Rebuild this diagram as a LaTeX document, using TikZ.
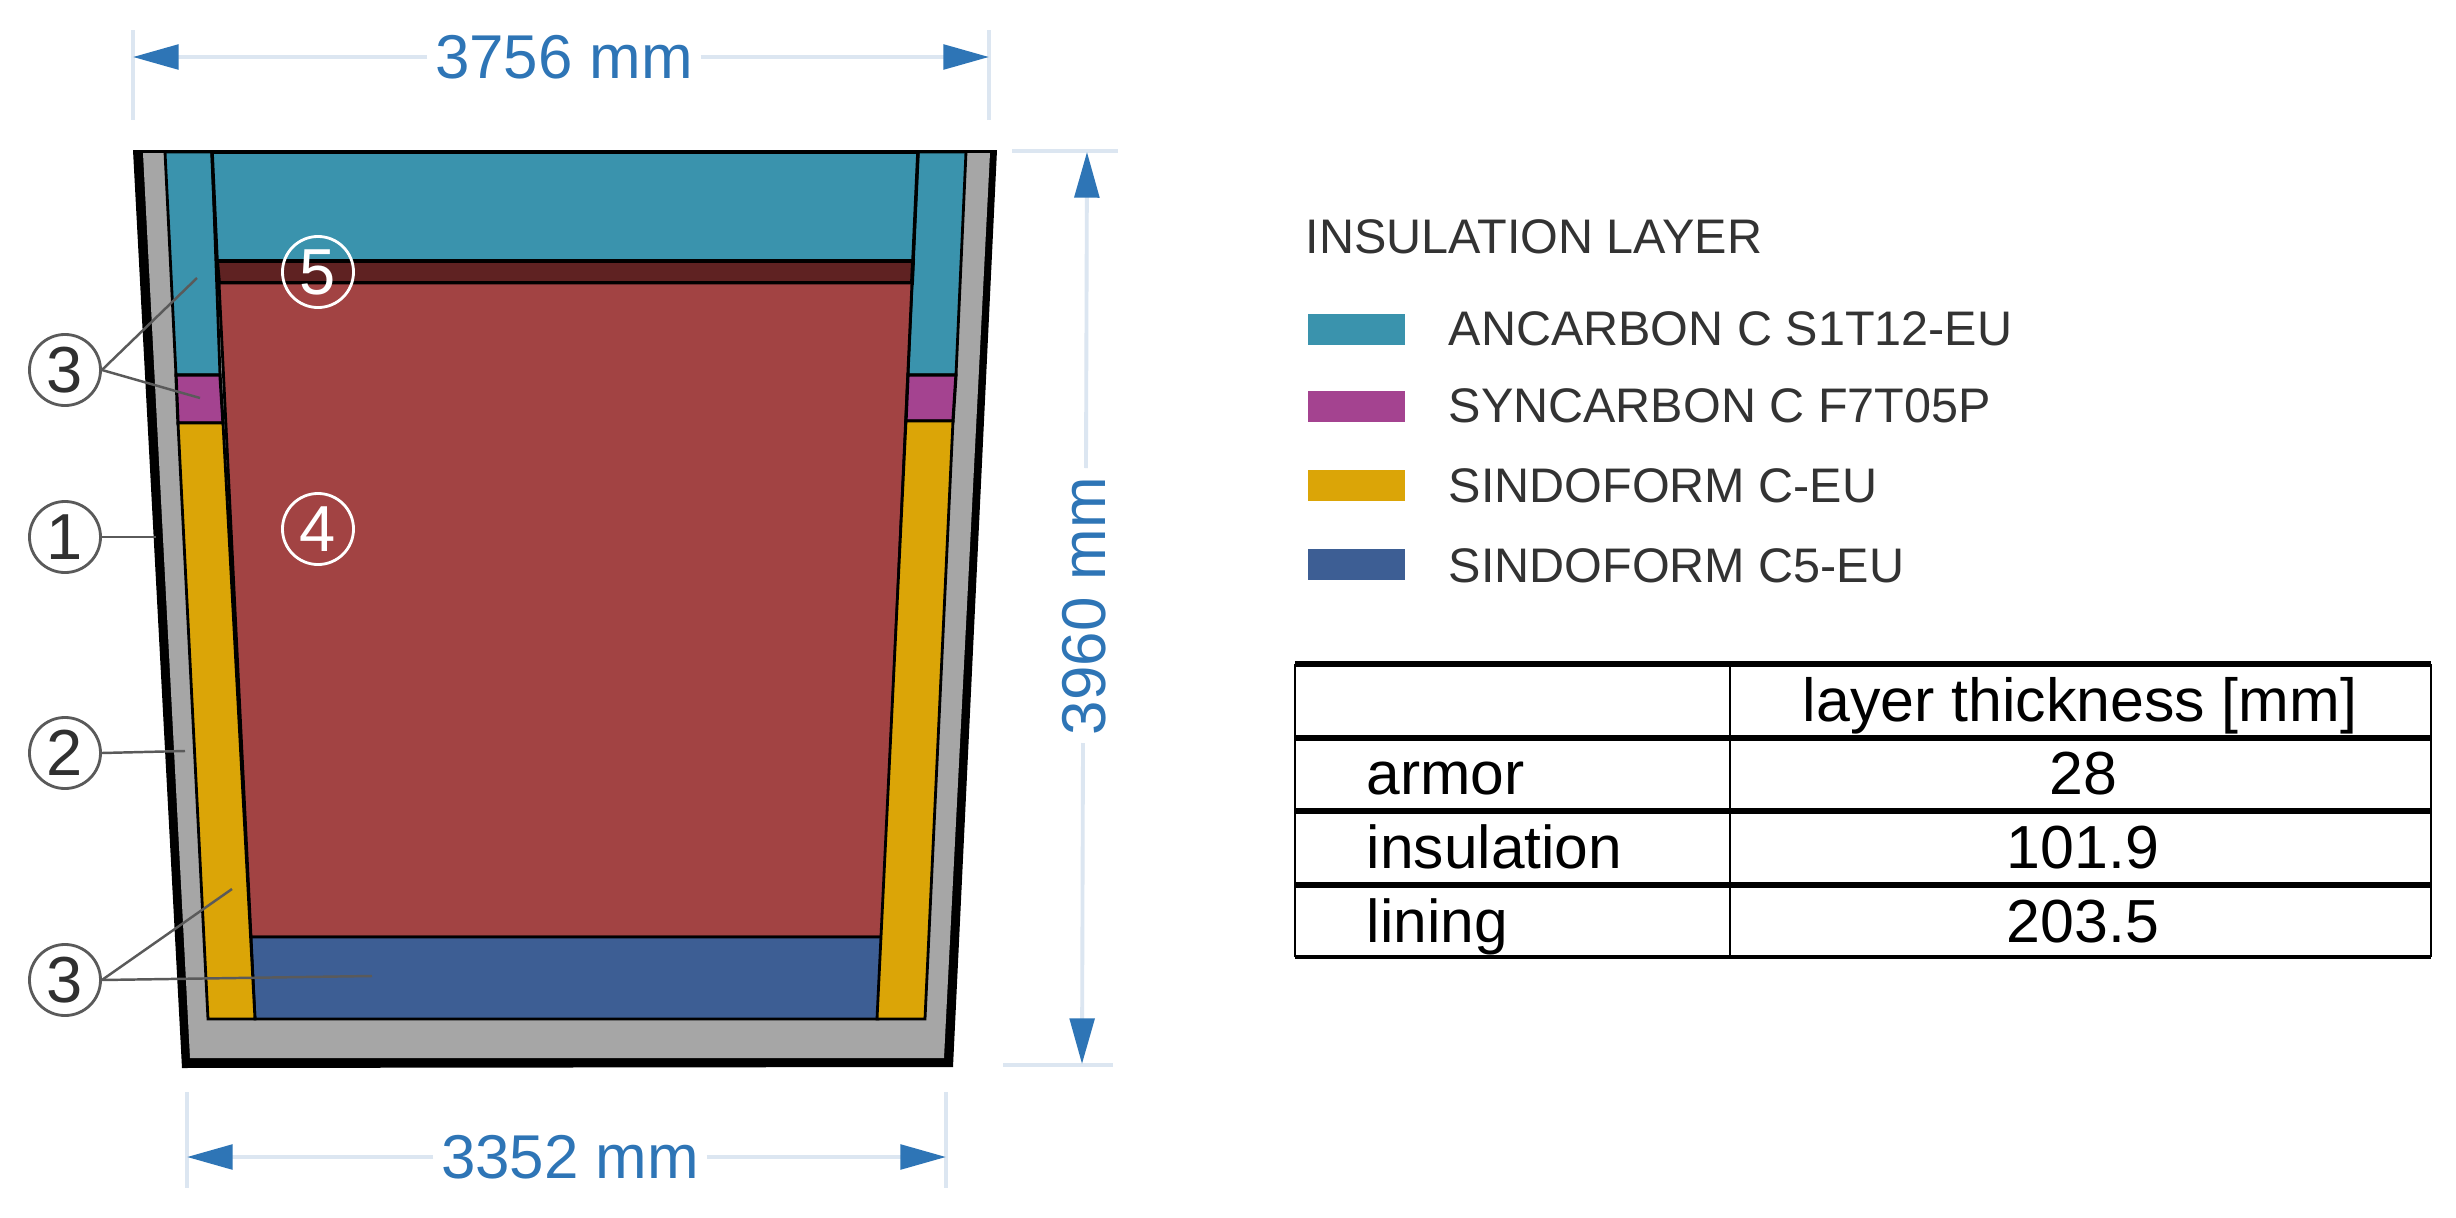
\documentclass[tikz,border=0pt]{standalone}
\usepackage{fontspec}
\setmainfont{Liberation Sans}
\usetikzlibrary{arrows.meta}
\definecolor{cteal}{HTML}{3A93AD}
\definecolor{cpurple}{HTML}{A44390}
\definecolor{cyellow}{HTML}{DBA507}
\definecolor{cred}{HTML}{A24343}
\definecolor{cdark}{HTML}{5F2222}
\definecolor{cblue}{HTML}{3D5E94}
\definecolor{cgray}{HTML}{A6A6A6}
\definecolor{dimhead}{HTML}{2E75B6}
\definecolor{dimline}{HTML}{DCE6F1}
\definecolor{leadc}{HTML}{5A5A5A}
\definecolor{digitc}{HTML}{303030}
\definecolor{legtext}{HTML}{333333}
\tikzset{
  x=0.01cm,y=-0.01cm,
  layerpoly/.style={draw=black,line width=0.8pt,line join=miter},
  dimext/.style={draw=dimline,line width=1.1pt},
  dimarrow/.style={draw=dimline,line width=1.1pt,-{Triangle[length=13pt,width=7pt,color=dimhead,fill=dimhead]}},
  dimtext/.style={text=dimhead,font=\fontsize{17.6}{20}\selectfont,inner sep=0pt,minimum height=0.5cm},
  circbase/.style={circle,line width=0.8pt,minimum size=0.71cm,inner sep=0pt,font=\fontsize{18.5}{20}\selectfont},
  circdark/.style={circbase,draw=leadc,text=digitc},
  circlight/.style={circbase,draw=white,text=white},
  leader/.style={draw=leadc,line width=0.7pt},
  swatch/.style={minimum width=0.97cm,minimum height=0.31cm,inner sep=0pt,anchor=north west},
  legentry/.style={anchor=base west,inner sep=0pt,text=legtext,font=\fontsize{13.8}{16}\selectfont},
  tabtext/.style={anchor=base,inner sep=0pt,text=black,font=\fontsize{17.3}{20}\selectfont},
  tabrow/.style={anchor=base west,inner sep=0pt,text=black,font=\fontsize{17.2}{20}\selectfont},
  tabheavy/.style={draw=black,line width=1.6pt},
  tabthin/.style={draw=black,line width=0.75pt}
}
\begin{document}
\begin{tikzpicture}
\useasboundingbox[fill=white] (0,0) rectangle (2456,1218);
% vessel
\fill[black] (133,150) -- (997,150) -- (953,1067) -- (182,1068) -- cycle;
\fill[cgray] (143,153) -- (990,153) -- (944,1058) -- (190,1058) -- cycle;
% layers
\path[layerpoly,fill=cteal] (165,152) -- (212,152) -- (220,375) -- (176,375) -- cycle;
\path[layerpoly,fill=cteal] (918,152) -- (966,152) -- (956,375) -- (908,375) -- cycle;
\path[layerpoly,fill=cteal,line width=1pt] (212,152) -- (918,152) -- (913,261) -- (217,261) -- cycle;
\path[layerpoly,fill=cdark,line width=1.1pt] (217,261) -- (913,261) -- (912,283) -- (219,283) -- cycle;
\path[layerpoly,fill=cred] (219,283) -- (912,283) -- (882,937) -- (251,937) -- cycle;
\path[layerpoly,fill=cblue] (251,937) -- (882,937) -- (878,1019) -- (255,1019) -- cycle;
\path[layerpoly,fill=cpurple,line width=0.9pt] (176,375) -- (220,375) -- (223,423) -- (178,423) -- cycle;
\path[layerpoly,fill=cpurple,line width=0.9pt] (908,375) -- (956,375) -- (953,421) -- (906,421) -- cycle;
\path[layerpoly,fill=cyellow] (178,423) -- (223,423) -- (255,1019) -- (208,1019) -- cycle;
\path[layerpoly,fill=cyellow] (906,421) -- (953,421) -- (925,1019) -- (877,1019) -- cycle;
% dimension extension lines
\coordinate (tl1) at (133,30); \coordinate (tl2) at (133,120);
\coordinate (tr1) at (989,30); \coordinate (tr2) at (989,120);
\draw[dimext] (tl1) -- (tl2); \draw[dimext] (tr1) -- (tr2);
\coordinate (vt1) at (1012,151); \coordinate (vt2) at (1118,151);
\coordinate (vb1) at (1003,1065); \coordinate (vb2) at (1113,1065);
\draw[dimext] (vt1) -- (vt2); \draw[dimext] (vb1) -- (vb2);
\coordinate (bl1) at (187,1092); \coordinate (bl2) at (187,1188);
\coordinate (br1) at (946,1092); \coordinate (br2) at (946,1188);
\draw[dimext] (bl1) -- (bl2); \draw[dimext] (br1) -- (br2);
% dimension labels
\node[dimtext,minimum width=2.72cm] (dimtop) at (564,57) {3756 mm};
\node[dimtext,minimum width=2.72cm] (dimbot) at (570,1157) {3352 mm};
\node[dimtext,rotate=90,minimum width=2.75cm] (dimside) at (1084,606) {3960 mm};
\coordinate (ta) at (tl1 |- dimtop); \coordinate (tb) at (tr1 |- dimtop);
\coordinate (ba) at (bl1 |- dimbot); \coordinate (bb) at (br1 |- dimbot);
\coordinate (sa) at (1087,152); \coordinate (sb) at (1082,1064);
\draw[dimarrow] (dimtop) -- (ta);
\draw[dimarrow] (dimtop) -- (tb);
\draw[dimarrow] (dimbot) -- (ba);
\draw[dimarrow] (dimbot) -- (bb);
\draw[dimarrow] (1086,468) -- (sa);
\draw[dimarrow] (1083,743) -- (sb);
% callouts
\node[circdark] (c3a) at (65,370) {3};
\node[circdark] (c1) at (65,537) {1};
\node[circdark] (c2) at (65,753) {2};
\node[circdark] (c3b) at (65,980) {3};
\node[circlight] (c5) at (318,272) {5};
\node[circlight] (c4) at (318,529) {4};
\coordinate (l3a) at (197,278); \coordinate (l3b) at (200,398);
\coordinate (l1) at (156,537); \coordinate (l2) at (185,751);
\coordinate (l3c) at (232,889); \coordinate (l3d) at (372,976);
\draw[leader] (c3a.east) -- (l3a);
\draw[leader] (c3a.east) -- (l3b);
\draw[leader] (c1.east) -- (l1);
\draw[leader] (c2.east) -- (l2);
\draw[leader] (c3b.east) -- (l3c);
\draw[leader] (c3b.east) -- (l3d);
% legend
\node[legentry] (legtitle) at (1305,253) {INSULATION LAYER};
\node[swatch,fill=cteal] (s1) at (1307,313) {};
\node[swatch,fill=cpurple] (s2) at (1307,390) {};
\node[swatch,fill=cyellow] (s3) at (1307,469) {};
\node[swatch,fill=cblue] (s4) at (1307,548) {};
\node[legentry] (e1) at (1448,345) {ANCARBON C S1T12-EU};
\node[legentry] (e2) at (1448,422) {SYNCARBON C F7T05P};
\node[legentry] (e3) at (1448,502) {SINDOFORM C-EU};
\node[legentry] (e4) at (1448,582) {SINDOFORM C5-EU};
% table
\draw[tabheavy] (1295,664) -- (2431,664);
\draw[tabheavy] (1295,738) -- (2431,738);
\draw[tabheavy] (1295,811) -- (2431,811);
\draw[tabheavy] (1295,885) -- (2431,885);
\draw[tabheavy,line width=1.1pt] (1295,957) -- (2431,957);
\draw[tabthin] (1295,664) -- (1295,957);
\draw[tabthin] (1730,664) -- (1730,957);
\draw[tabthin] (2431,664) -- (2431,957);
\node[tabtext] (th) at (2080,721) {layer thickness [mm]};
\node[tabrow] (r1) at (1366,794) {armor};
\node[tabrow] (r2) at (1366,868) {insulation};
\node[tabrow] (r3) at (1366,942) {lining};
\node[tabtext] (v1) at (2083,794) {28};
\node[tabtext] (v2) at (2083,868) {101.9};
\node[tabtext] (v3) at (2083,942) {203.5};
\end{tikzpicture}
\end{document}
